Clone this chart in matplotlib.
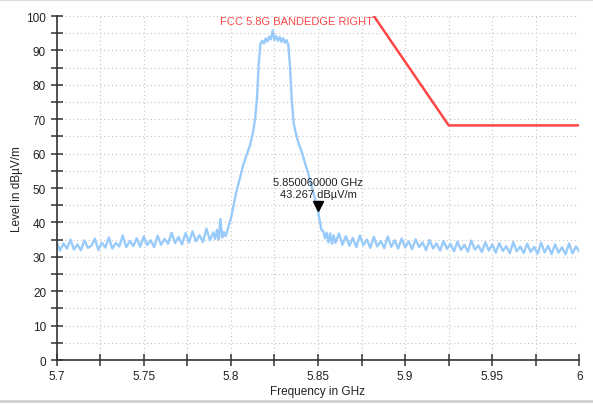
import numpy as np
import matplotlib.pyplot as plt
from matplotlib.lines import Line2D
from matplotlib.ticker import MultipleLocator

plt.rcParams['font.family'] = ['Liberation Sans', 'DejaVu Sans']

# Trace frequencies in MHz (2 MHz steps on the floor, 1 MHz around the carrier)
freq_mhz = [
    5700, 5702, 5704, 5706, 5708, 5710, 5712, 5714, 5716, 5718,
    5720, 5722, 5724, 5726, 5728, 5730, 5732, 5734, 5736, 5738,
    5740, 5742, 5744, 5746, 5748, 5750, 5752, 5754, 5756, 5758,
    5760, 5762, 5764, 5766, 5768, 5770, 5772, 5774, 5776, 5778,
    5780, 5782, 5784, 5786, 5788, 5790,
    5791, 5792, 5793, 5794, 5795, 5796, 5797, 5798, 5799, 5800,
    5801, 5802, 5803, 5804, 5805, 5806, 5807, 5808, 5809, 5810,
    5811, 5812, 5813, 5814, 5815, 5816, 5817, 5818, 5819, 5820,
    5821, 5822, 5823, 5824, 5825, 5826, 5827, 5828, 5829, 5830,
    5831, 5832, 5833, 5834, 5835, 5836, 5837, 5838, 5839, 5840,
    5841, 5842, 5843, 5844, 5845, 5846, 5847, 5848, 5849, 5850,
    5851, 5852, 5853, 5854, 5855, 5856, 5857, 5858, 5859, 5860,
    5862, 5864, 5866, 5868, 5870, 5872, 5874, 5876, 5878, 5880,
    5882, 5884, 5886, 5888, 5890, 5892, 5894, 5896, 5898, 5900,
    5902, 5904, 5906, 5908, 5910, 5912, 5914, 5916, 5918, 5920,
    5922, 5924, 5926, 5928, 5930, 5932, 5934, 5936, 5938, 5940,
    5942, 5944, 5946, 5948, 5950, 5952, 5954, 5956, 5958, 5960,
    5962, 5964, 5966, 5968, 5970, 5972, 5974, 5976, 5978, 5980,
    5982, 5984, 5986, 5988, 5990, 5992, 5994, 5996, 5998, 6000,
]
level = [
    34.5, 31.8, 33.9, 32.4, 35.0, 32.1, 33.6, 31.9, 34.8, 32.6,
    33.2, 35.3, 32.0, 34.1, 32.7, 35.6, 32.4, 34.0, 33.0, 36.2,
    32.8, 34.6, 33.1, 35.4, 32.9, 35.9, 33.4, 34.8, 32.8, 36.1,
    33.5, 35.2, 33.8, 37.0, 34.0, 35.8, 33.6, 36.9, 34.2, 37.4,
    34.5, 36.3, 34.3, 38.2, 34.8, 37.1,
    35.2, 37.8, 35.0, 41.0, 35.6, 37.2, 36.0, 37.5, 39.5, 41.0,
    43.5, 46.0, 48.5, 50.5, 52.5, 54.5, 56.5, 58.0, 59.5, 61.0,
    62.5, 64.5, 67.0, 70.5, 76.0, 86.0, 92.0, 92.8, 92.0, 93.5,
    92.6, 94.0, 93.2, 95.8, 93.0, 94.2, 92.8, 93.9, 92.5, 93.6,
    92.2, 93.0, 91.5, 85.0, 75.0, 69.0, 66.5, 64.5, 62.8, 61.5,
    60.0, 58.2, 56.5, 55.0, 53.0, 51.2, 49.2, 47.5, 45.3, 43.3,
    40.5, 37.8, 37.5, 35.4, 37.0, 34.2, 36.8, 33.8, 36.2, 34.0,
    36.8, 33.5, 36.0, 33.2, 35.5, 32.8, 36.2, 33.4, 35.0, 32.6,
    35.8, 33.0, 34.6, 32.5, 35.9, 32.9, 34.8, 32.4, 35.3, 32.7,
    34.5, 32.2, 35.1, 32.8, 34.2, 31.9, 34.9, 32.4, 33.9, 31.8,
    34.6, 32.3, 33.8, 31.6, 34.4, 32.0, 33.5, 31.5, 34.7, 32.1,
    33.3, 31.4, 34.2, 31.8, 33.6, 31.2, 34.0, 31.7, 33.1, 31.0,
    34.3, 31.6, 33.0, 31.1, 33.8, 31.4, 32.9, 30.9, 34.1, 31.3,
    33.2, 30.8, 33.6, 31.2, 32.8, 30.7, 33.9, 31.0, 33.0, 31.5,
]

# FCC 15.407 band-edge limit (GHz, dBuV/m)
limit_f = [5.850, 5.855, 5.875, 5.925, 6.000]
limit_l = [122.2, 110.8, 105.2, 68.2, 68.2]

marker_f = 5.85006
marker_l = 43.267

fig = plt.figure(figsize=(5.93, 4.06), dpi=100)
ax = fig.add_axes([0.0953, 0.1108, 0.8819, 0.8473])

freq = np.array(freq_mhz) / 1000.0
ax.plot(freq, level, color='#99cbfa', lw=1.7, zorder=2)
ax.plot(limit_f, limit_l, color='#ff4646', lw=1.8, zorder=3, clip_on=True)

ax.text(5.8815, 98.6, 'FCC 5.8G BANDEDGE RIGHT', color='#ff4646',
        fontsize=8, ha='right', va='center')

# marker triangle sits just above the trace point
ax.plot([marker_f], [marker_l + 1.6], marker='v', color='black',
        markersize=7, zorder=4)
ax.text(marker_f, marker_l + 3.6, '5.850060000 GHz\n43.267 dBµV/m',
        ha='center', va='bottom', fontsize=8, color='#222222',
        linespacing=1.25)

ax.set_xlim(5.7, 6.0)
ax.set_ylim(0, 100)
ax.xaxis.set_major_locator(MultipleLocator(0.05))
ax.xaxis.set_minor_locator(MultipleLocator(0.025))
ax.yaxis.set_major_locator(MultipleLocator(10))
ax.yaxis.set_minor_locator(MultipleLocator(5))
ax.set_xticks([5.7, 5.75, 5.8, 5.85, 5.9, 5.95, 6.0])
ax.set_xticklabels(['5.7', '5.75', '5.8', '5.85', '5.9', '5.95', '6'])

ax.grid(which='both', color='#c4c4c4', linestyle=(0, (1, 2.5)), lw=0.8)
ax.tick_params(which='both', direction='inout', length=9, width=1.1,
               color='#333333', labelsize=8.5, labelcolor='#222222', pad=3)
for s in ['top', 'right']:
    ax.spines[s].set_visible(False)
for s in ['left', 'bottom']:
    ax.spines[s].set_color('#333333')
    ax.spines[s].set_linewidth(1.2)

ax.set_xlabel('Frequency in GHz', fontsize=8.5, color='#222222', labelpad=2)
ax.set_ylabel('Level in dBµV/m', fontsize=8.5, color='#222222', labelpad=2)

fig.add_artist(Line2D([0, 1], [0.998, 0.998], color='#dddddd', lw=1.5))
fig.add_artist(Line2D([0, 1], [0.011, 0.011], color='#cfcfcf', lw=2))

fig.savefig('out.png', dpi=100)
